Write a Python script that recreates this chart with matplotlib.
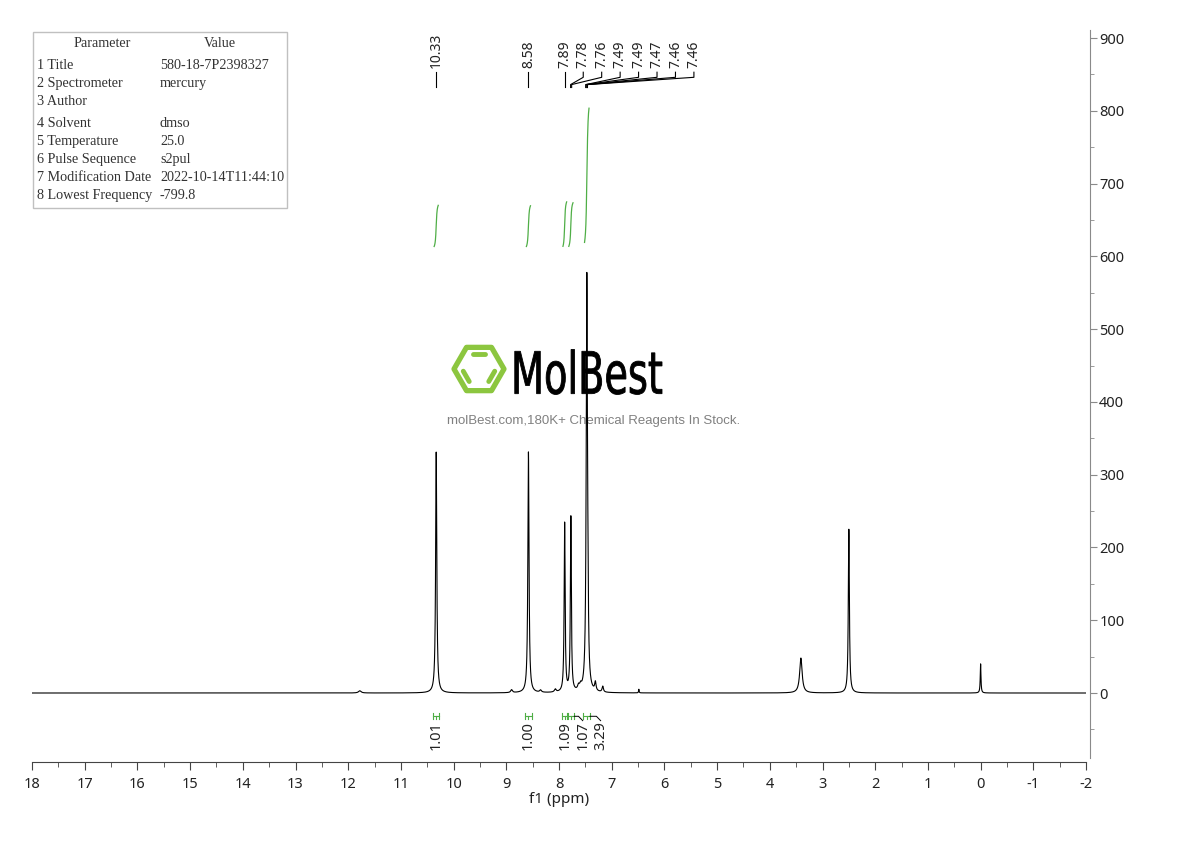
import numpy as np
import matplotlib
matplotlib.use('Agg')
import matplotlib.pyplot as plt
from matplotlib.patches import Rectangle, Polygon, PathPatch
from matplotlib.textpath import TextPath
from matplotlib.font_manager import FontProperties
from matplotlib.transforms import Affine2D
from matplotlib.ticker import MultipleLocator

plt.rcParams['font.family'] = ['Noto Sans', 'DejaVu Sans']
plt.rcParams['axes.unicode_minus'] = False

# ---------------- data ----------------
peak_ppm    = [11.78, 10.33, 8.90, 8.58, 8.35, 8.07, 7.893, 7.775, 7.63, 7.59, 7.472, 7.452, 7.31, 7.17, 6.485, 3.41, 2.50, 0.00]
peak_height = [3,     331,   4,    331,  3,    4,    232,   240,   6,    6,    565,   60,    12,   8,    5,     48,   225,  40]
peak_hwhm   = [0.03,  0.013, 0.02, 0.013, 0.02, 0.02, 0.011, 0.011, 0.02, 0.02, 0.014, 0.010, 0.015, 0.015, 0.006, 0.028, 0.012, 0.008]

label_ppm = [10.33, 8.58, 7.89, 7.78, 7.76, 7.49, 7.49, 7.47, 7.46, 7.46]

integral_start = [10.39, 8.64, 7.94, 7.83, 7.54]
integral_end   = [10.27, 8.52, 7.84, 7.71, 7.41]
integral_value = [1.01, 1.00, 1.09, 1.07, 3.29]

param_names  = ['1 Title', '2 Spectrometer', '3 Author', '4 Solvent', '5 Temperature',
                '6 Pulse Sequence', '7 Modification Date', '8 Lowest Frequency']
param_values = ['580-18-7P2398327', 'mercury', '', 'dmso', '25.0',
                's2pul', '2022-10-14T11:44:10', '-799.8']

x_ticks = list(range(18, -3, -1))
y_ticks = list(range(0, 1000, 100))

# ---------------- figure ----------------
W, H = 1190, 841
fig = plt.figure(figsize=(W / 100, H / 100), dpi=100)

bg = fig.add_axes([0, 0, 1, 1], zorder=0)
bg.set_xlim(0, W)
bg.set_ylim(H, 0)
bg.axis('off')

ax = fig.add_axes([32 / W, 79 / H, 1054 / W, 732 / H], zorder=1)
ax.patch.set_alpha(0)

# spectrum
ppm = np.linspace(18, -2, 40001)
spec = np.zeros_like(ppm)
for c, h, w in zip(peak_ppm, peak_height, peak_hwhm):
    spec += h / (1 + ((ppm - c) / w) ** 2)
ax.plot(ppm, spec, color='black', lw=0.8)

green = '#4fae46'

# integral curves
int_base = 611
int_scale = 61
for s, e, v in zip(integral_start, integral_end, integral_value):
    m = (ppm <= s) & (ppm >= e)
    cum = np.cumsum(spec[m])
    cum = cum / cum[-1]
    keep = (cum > 0.04) & (cum < 0.96)
    ax.plot(ppm[m][keep], int_base + v * int_scale * cum[keep], color=green, lw=0.9)

# integral brackets & labels below baseline
yb = -32
lab_pos = []
for i, (s, e) in enumerate(zip(integral_start, integral_end)):
    c = (s + e) / 2
    p = c if i == 0 else min(c, lab_pos[-1] - 0.34)
    lab_pos.append(p)
for s, e, v, p in zip(integral_start, integral_end, integral_value, lab_pos):
    c = (s + e) / 2
    ax.plot([s, e], [yb, yb], color=green, lw=0.8)
    ax.plot([s, s], [yb - 4, yb + 4], color=green, lw=0.8)
    ax.plot([e, e], [yb - 4, yb + 4], color=green, lw=0.8)
    ax.plot([c, c], [yb, yb - 4], color=green, lw=0.8)
    if abs(p - c) > 1e-6:
        ax.plot([e, p + 0.08, p], [yb, yb, yb - 6], color='black', lw=0.7)
    ax.text(p, yb - 6, f'{v:.2f}', rotation=90, ha='center', va='top',
            fontsize=10.5, color='#222222')

# peak labels at top
y_txt = 858.5
y1, y2, y3, y4 = 853, 846, 836, 832
pos = []
for i, v in enumerate(label_ppm):
    p = v if i == 0 else min(v, pos[-1] - 0.35)
    pos.append(p)
for v, p in zip(label_ppm, pos):
    ax.text(p, y_txt, f'{v:.2f}', rotation=90, ha='center', va='bottom',
            fontsize=10, color='#222222')
    if abs(p - v) < 1e-6:
        ax.plot([v, v], [y1, y4], color='black', lw=0.8)
    else:
        ax.plot([p, p, v, v], [y1, y2, y3, y4], color='black', lw=0.8)

# axes styling
ax.set_xlim(18, -2)
ax.set_xticks(x_ticks)
ax.set_xticklabels([str(t) for t in x_ticks])
ax.xaxis.set_minor_locator(MultipleLocator(0.5))
ax.yaxis.tick_right()
ax.set_yticks(y_ticks)
ax.set_yticklabels([str(t) for t in y_ticks])
ax.yaxis.set_minor_locator(MultipleLocator(50))
ax.set_ylim(-94.8, 911)

for sp in ('top', 'left'):
    ax.spines[sp].set_visible(False)
ax.spines['right'].set_position(('outward', 3))
ax.spines['right'].set_bounds(-89, 911)
ax.spines['right'].set_color('#8a8a8a')
ax.spines['bottom'].set_color('#444444')
ax.tick_params(axis='x', which='major', direction='out', length=6, color='#444444',
               labelsize=10.5, labelcolor='#222222', pad=5)
ax.tick_params(axis='x', which='minor', direction='out', length=3.5, color='#444444')
ax.tick_params(axis='y', which='major', direction='out', length=5, color='#8a8a8a',
               labelsize=10.5, labelcolor='#222222', pad=1.5)
ax.tick_params(axis='y', which='minor', direction='out', length=3, color='#8a8a8a')
ax.set_xlabel('f1 (ppm)', fontsize=11, color='#222222', labelpad=0)

# parameter table
bg.add_patch(Rectangle((33, 32), 254, 176, fill=False, ec='#c0c0c0', lw=1))
tfont = dict(family=['Liberation Serif', 'DejaVu Serif'], fontsize=10.2, color='#333333', va='center')
bg.text(102, 43, 'Parameter', ha='center', **tfont)
bg.text(220, 43, 'Value', ha='center', **tfont)
row_y = [65, 83, 101, 123, 141, 159, 177, 195]
for ry, n, v in zip(row_y, param_names, param_values):
    bg.text(37, ry, n, ha='left', **tfont)
    bg.text(160, ry, v, ha='left', **tfont)

# watermark logo
cx, cy, r = 479, 369, 25
ang = np.deg2rad(np.arange(0, 360, 60))
hx = cx + r * np.cos(ang)
hy = cy - r * np.sin(ang)
logo_green = '#8cc63f'
bg.add_patch(Polygon(np.column_stack([hx, hy]), closed=True, fill=False,
                     ec=logo_green, lw=3.8, joinstyle='round'))
ri = 0.68 * r
ix = cx + ri * np.cos(ang)
iy = cy - ri * np.sin(ang)
for k in (1, 3, 5):
    a, b = k, (k + 1) % 6
    p1 = np.array([ix[a], iy[a]]); p2 = np.array([ix[b], iy[b]])
    q1 = p1 + 0.15 * (p2 - p1); q2 = p1 + 0.85 * (p2 - p1)
    bg.plot([q1[0], q2[0]], [q1[1], q2[1]], color=logo_green, lw=3.5, solid_capstyle='round')

tp = TextPath((0, 0), 'MolBest', size=1, prop=FontProperties(family='DejaVu Sans'))
vx = tp.vertices
x0, x1 = vx[:, 0].min(), vx[:, 0].max()
yy0, yy1 = vx[:, 1].min(), vx[:, 1].max()
tr = Affine2D().translate(-x0, -yy0).scale(151 / (x1 - x0), -45 / (yy1 - yy0)).translate(511, 394.5)
bg.add_patch(PathPatch(tr.transform_path(tp), fc='black', ec='black', lw=0.6))
bg.text(594, 421, 'molBest.com,180K+ Chemical Reagents In Stock.', ha='center', va='center',
        color='#808080', family=['Liberation Sans', 'DejaVu Sans'], fontsize=9.5)

fig.savefig('out.png', dpi=100)
